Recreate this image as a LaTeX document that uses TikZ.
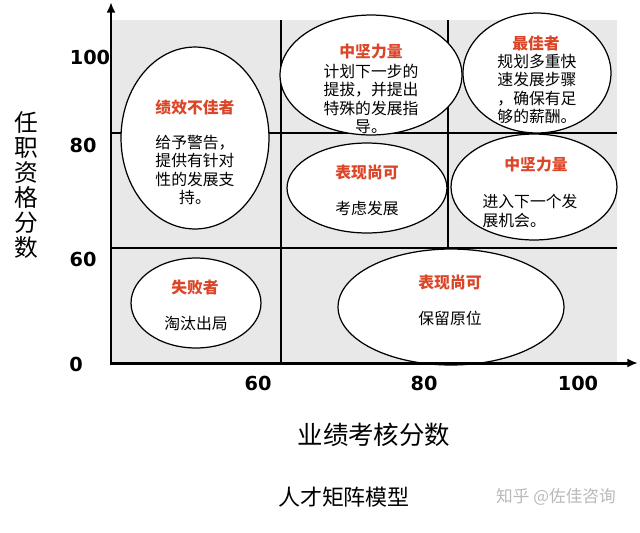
\documentclass[tikz,border=0pt]{standalone}
\usepackage{fontspec}
\setsansfont{DejaVu Sans}
\newfontfamily\cjk{Noto Sans CJK SC}
\usetikzlibrary{arrows.meta,shapes.geometric}
\definecolor{headred}{RGB}{220,70,40}
\definecolor{cellgray}{RGB}{232,232,232}

\begin{document}
\begin{tikzpicture}[x=0.02cm,y=-0.02cm,
  oval/.style 2 args={draw,ellipse,fill=white,line width=.7pt,inner sep=0pt,
    minimum width=#1*0.04cm,minimum height=#2*0.04cm},
  headtxt/.style={font=\cjk\bfseries\fontsize{9}{10.4}\selectfont,text=headred},
  bodytxt/.style={font=\cjk\fontsize{9}{10.4}\selectfont,align=center},
  score/.style={font=\sffamily\bfseries\fontsize{11}{13}\selectfont},
  gridline/.style={line width=.8pt},
  axis/.style={line width=1.7pt,{Latex[length=6pt,width=5pt]}-{Latex[length=6pt,width=5pt]}}]
  \useasboundingbox (0,0) rectangle (640,532);
  % matrix cells
  \fill[cellgray] (112,20) rectangle (617,363);
  \draw[gridline] (112,133) -- (617,133);
  \draw[gridline] (112,248) -- (617,248);
  \draw[gridline] (281,20) -- (281,363);
  \draw[gridline] (448,20) -- (448,248);
  % ellipses
  \node[oval={74}{91}] (poor) at (195,138) {};
  \node[oval={91}{60}] (core1) at (371,75) {};
  \node[oval={74}{60}] (best) at (537,73) {};
  \node[oval={80}{45}] (fair1) at (367,188) {};
  \node[oval={83}{53}] (core2) at (534,187) {};
  \node[oval={65}{45}] (fail) at (196,303) {};
  \node[oval={113}{58}] (fair2) at (451,307) {};
  % texts in the ellipses
  \node[headtxt] (poorH) at (195,107) {绩效不佳者};
  \node[bodytxt] (poorB) at (195,170) {给予警告，\\提供有针对\\性的发展支\\持。};
  \node[headtxt] (core1H) at (371,52) {中坚力量};
  \node[bodytxt] (core1B) at (371,99) {计划下一步的\\提拔，并提出\\特殊的发展指\\导。};
  \node[headtxt] (bestH) at (536,43) {最佳者};
  \node[bodytxt,align=left] (bestB) at (537,89) {规划多重快\\速发展步骤\\，确保有足\\够的薪酬。};
  \node[headtxt] (fair1H) at (367,172) {表现尚可};
  \node[bodytxt] (fair1B) at (367,208) {考虑发展};
  \node[headtxt] (core2H) at (536,165) {中坚力量};
  \node[bodytxt,align=left] (core2B) at (530,211) {进入下一个发\\展机会。};
  \node[headtxt] (failH) at (195,287) {失败者};
  \node[bodytxt] (failB) at (196,323) {淘汰出局};
  \node[headtxt] (fair2H) at (450,282) {表现尚可};
  \node[bodytxt] (fair2B) at (450,318) {保留原位};
  % axes
  \coordinate (O) at (111,363);
  \coordinate (ytop) at (111,2);
  \coordinate (xend) at (638,363);
  \draw[axis] (ytop) -- (O) -- (xend);
  \node[score] (y100) at (90,57) {100};
  \node[score] (y80) at (83,145) {80};
  \node[score] (y60) at (83,259) {60};
  \node[score] (y0) at (76,364) {0};
  \node[score] (x60) at (258,383) {60};
  \node[score] (x80) at (424,383) {80};
  \node[score] (x100) at (578,383) {100};
  \node[font=\cjk\fontsize{13.5}{14.2}\selectfont,align=center] (ytitle) at (26,185) {任\\职\\资\\格\\分\\数};
  \node[font=\cjk\fontsize{14.5}{16}\selectfont] (xtitle) at (374,435) {业绩考核分数};
  \node[font=\cjk\fontsize{12.5}{14}\selectfont] (caption) at (344,497) {人才矩阵模型};
  \node[font=\cjk\fontsize{9.5}{11}\selectfont,text=gray!55] (mark) at (556,497) {知乎 @佐佳咨询};
\end{tikzpicture}
\end{document}
